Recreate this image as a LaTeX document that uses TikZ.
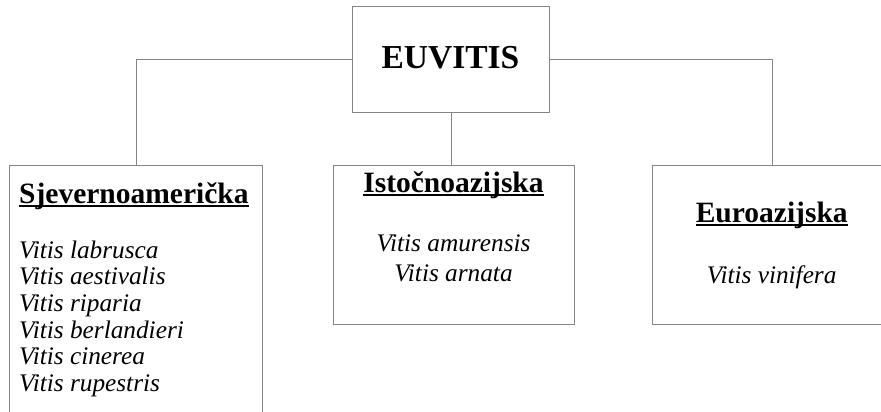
\documentclass[tikz,border=0pt]{standalone}
\usepackage{fontspec}
\setmainfont{Liberation Serif}
\newcommand{\ulhead}[1]{\setbox0\hbox{#1}\rlap{\rule[-4pt]{\wd0}{1.8pt}}\box0}
\begin{document}
\begin{tikzpicture}[x=1pt,y=-1pt,
  boxst/.style={draw=black!48, line width=1.1pt, fill=white, inner sep=0, anchor=north west},
  conn/.style={draw=black!48, line width=1.1pt},
  headst/.style={inner sep=0, anchor=base, font=\fontsize{29.5}{30}\selectfont\bfseries},
  spec/.style={inner sep=0, font=\fontsize{25.3}{27}\selectfont\itshape},
]
\useasboundingbox (0,0) rectangle (881,412);
\clip (0,0) rectangle (881,412);
\fill[white] (0,0) rectangle (881,412);
% boxes
\node[boxst, minimum width=197pt, minimum height=106pt] (eu) at (352,6) {};
\node[boxst, minimum width=253pt, minimum height=280pt] (lb) at (9,165) {};
\node[boxst, minimum width=241pt, minimum height=159pt] (mb) at (333,165) {};
\node[boxst, minimum width=239.4pt, minimum height=159pt] (rb) at (652,165) {};
% connectors
\draw[conn] (eu.west) -| (lb.north);
\draw[conn] (eu.east) -| (rb.north);
\draw[conn] (eu.south) -- (eu.south |- mb.north);
% title
\node[inner sep=0, anchor=base, font=\fontsize{33.5}{35}\selectfont\bfseries] (t) at (450.5,69) {EUVITIS};
% headings
\node[headst, anchor=base west] (h1) at (19,203) {\ulhead{Sjevernoamerička}};
\node[headst] (h2) at (453.5,192) {\ulhead{Istočnoazijska}};
\node[headst] (h3) at (771.7,222) {\ulhead{Euroazijska}};
% species
\foreach \s [count=\i from 0] in {Vitis labrusca, Vitis aestivalis, Vitis riparia, Vitis berlandieri, Vitis cinerea, Vitis rupestris}
  \node[spec, anchor=base west] (l\i) at (19,258+26.7*\i) {\s};
\node[spec, anchor=base] (m1) at (453.5,251) {Vitis amurensis};
\node[spec, anchor=base] (m2) at (453.5,281) {Vitis arnata};
\node[spec, anchor=base] (r1) at (771.7,283) {Vitis vinifera};
\end{tikzpicture}
\end{document}
